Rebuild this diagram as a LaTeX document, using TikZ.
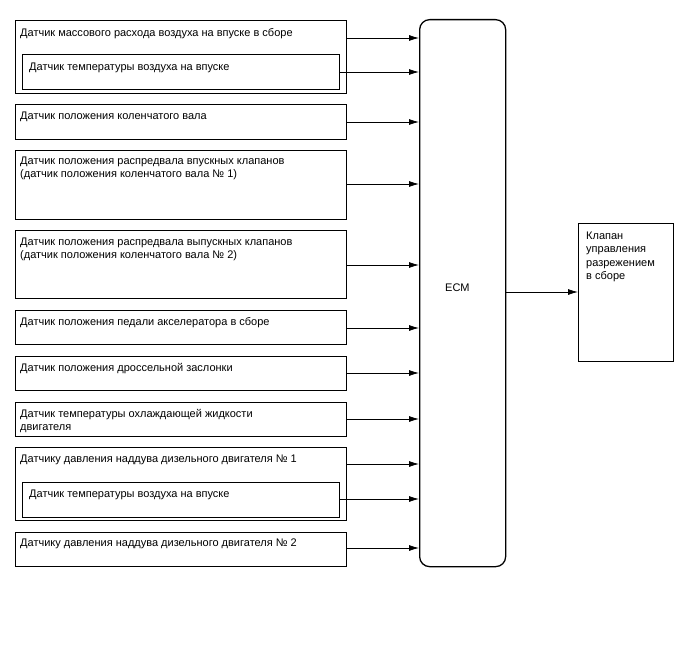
\documentclass[tikz,border=0pt]{standalone}
\usepackage{fontspec}
\setmainfont{Liberation Sans}
\usetikzlibrary{arrows.meta}
\tikzset{
  box/.style={draw, line width=1.3pt, anchor=north west, inner sep=0pt},
  lbl/.style={anchor=north west, inner sep=0pt, align=left, font=\fontsize{11}{13.5}\selectfont},
  arr/.style={line width=0.8pt, -{Latex[length=10pt,width=6pt]}}
}
\newcommand{\mkbox}[5]{% name, x1,y1,x2,y2
  \node[box, minimum width=#4pt-#2pt, minimum height=#5pt-#3pt] (#1) at (#2,#3) {};}
\newcommand{\tp}{\rule{0pt}{9pt}}
\begin{document}
\begin{tikzpicture}[x=1pt,y=-1pt]
\useasboundingbox (0,0) rectangle (688,658);
\mkbox{b1}{15}{20}{346}{93}
\mkbox{i1}{22}{54}{339}{89}
\mkbox{b2}{15}{104}{346}{139}
\mkbox{b3}{15}{150}{346}{219}
\mkbox{b4}{15}{230}{346}{298}
\mkbox{b5}{15}{310}{346}{344}
\mkbox{b6}{15}{356}{346}{390}
\mkbox{b7}{15}{402}{346}{436}
\mkbox{b8}{15}{447}{346}{520}
\mkbox{i8}{22}{482}{339}{517}
\mkbox{b9}{15}{532}{346}{566}
\node[box, rounded corners=10pt, minimum width=86pt, minimum height=547pt] (ecm) at (419,19) {};
\mkbox{out}{578}{223}{673}{361}

\node[lbl] (t1) at (20,27) {\tp Датчик массового расхода воздуха на впуске в сборе};
\node[lbl] (ti1) at (29,61) {\tp Датчик температуры воздуха на впуске};
\node[lbl] (t2) at (20,110) {\tp Датчик положения коленчатого вала};
\node[lbl] (t3) at (20,155) {\tp Датчик положения распредвала впускных клапанов\\(датчик положения коленчатого вала № 1)};
\node[lbl] (t4) at (20,236) {\tp Датчик положения распредвала выпускных клапанов\\(датчик положения коленчатого вала № 2)};
\node[lbl] (t5) at (20,316) {\tp Датчик положения педали акселератора в сборе};
\node[lbl] (t6) at (20,362) {\tp Датчик положения дроссельной заслонки};
\node[lbl] (t7) at (20,408) {\tp Датчик температуры охлаждающей жидкости\\двигателя};
\node[lbl] (t8) at (20,453) {\tp Датчику давления наддува дизельного двигателя № 1};
\node[lbl] (ti8) at (29,488) {\tp Датчик температуры воздуха на впуске};
\node[lbl] (t9) at (20,537) {\tp Датчику давления наддува дизельного двигателя № 2};
\node[lbl] (tecm) at (445,282) {\tp ECM};
\node[lbl] (tout) at (586,230) {\tp Клапан\\управления\\разрежением\\в сборе};

\draw[arr] (b1.east |- 0,38) -- (ecm.west |- 0,38);
\draw[arr] (i1.east |- 0,72) -- (ecm.west |- 0,72);
\draw[arr] (b2.east |- 0,122) -- (ecm.west |- 0,122);
\draw[arr] (b3.east |- 0,184) -- (ecm.west |- 0,184);
\draw[arr] (b4.east |- 0,265) -- (ecm.west |- 0,265);
\draw[arr] (b5.east |- 0,328) -- (ecm.west |- 0,328);
\draw[arr] (b6.east |- 0,373) -- (ecm.west |- 0,373);
\draw[arr] (b7.east |- 0,419) -- (ecm.west |- 0,419);
\draw[arr] (b8.east |- 0,464) -- (ecm.west |- 0,464);
\draw[arr] (i8.east |- 0,499) -- (ecm.west |- 0,499);
\draw[arr] (b9.east |- 0,548) -- (ecm.west |- 0,548);
\draw[arr] (ecm.east |- 0,292) -- (out.west |- 0,292);
\end{tikzpicture}
\end{document}
